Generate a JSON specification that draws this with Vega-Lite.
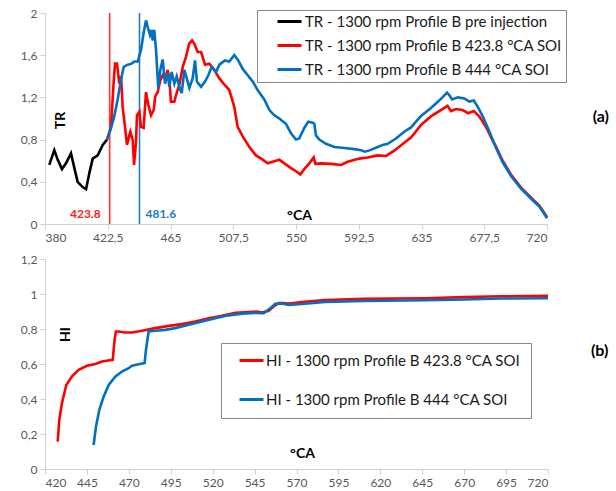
{
  "$schema": "https://vega.github.io/schema/vega-lite/v6.json",
  "background": "white",
  "padding": {"left": 20, "top": 7, "right": 2, "bottom": 0},
  "spacing": 10,
  "config": {
    "view": {"stroke": null},
    "font": "Lato",
    "axis": {
      "grid": false,
      "labelFont": "Lato",
      "labelFontSize": 12,
      "labelColor": "#595959",
      "domainColor": "#D0D0D0",
      "tickColor": "#D0D0D0",
      "tickSize": 5,
      "labelPadding": 3,
      "titleFont": "Lato",
      "titleFontSize": 14,
      "titleFontWeight": "bold",
      "titleColor": "#000000"
    },
    "legend": {
      "labelFont": "Lato",
      "labelFontSize": 15,
      "labelColor": "#1A1A1A",
      "symbolType": "M-2,0L2,0",
      "symbolStrokeWidth": 3,
      "symbolSize": 144,
      "strokeColor": "#888888",
      "fillColor": "white",
      "labelLimit": 400
    }
  },
  "datasets": {
    "tr": [
      {"ca": 382.9, "tr": 0.56, "series": "TR - 1300 rpm Profile B pre injection"},
      {"ca": 386.3, "tr": 0.70, "series": "TR - 1300 rpm Profile B pre injection"},
      {"ca": 388.6, "tr": 0.61, "series": "TR - 1300 rpm Profile B pre injection"},
      {"ca": 391.5, "tr": 0.52, "series": "TR - 1300 rpm Profile B pre injection"},
      {"ca": 394.2, "tr": 0.575, "series": "TR - 1300 rpm Profile B pre injection"},
      {"ca": 397.6, "tr": 0.67, "series": "TR - 1300 rpm Profile B pre injection"},
      {"ca": 399.9, "tr": 0.53, "series": "TR - 1300 rpm Profile B pre injection"},
      {"ca": 402.1, "tr": 0.40, "series": "TR - 1300 rpm Profile B pre injection"},
      {"ca": 405.5, "tr": 0.35, "series": "TR - 1300 rpm Profile B pre injection"},
      {"ca": 407.8, "tr": 0.33, "series": "TR - 1300 rpm Profile B pre injection"},
      {"ca": 410.0, "tr": 0.48, "series": "TR - 1300 rpm Profile B pre injection"},
      {"ca": 412.3, "tr": 0.62, "series": "TR - 1300 rpm Profile B pre injection"},
      {"ca": 415.7, "tr": 0.65, "series": "TR - 1300 rpm Profile B pre injection"},
      {"ca": 419.1, "tr": 0.75, "series": "TR - 1300 rpm Profile B pre injection"},
      {"ca": 422.0, "tr": 0.80, "series": "TR - 1300 rpm Profile B pre injection"},

      {"ca": 422.0, "tr": 0.80, "series": "TR - 1300 rpm Profile B 423.8 °CA SOI"},
      {"ca": 424.7, "tr": 0.92, "series": "TR - 1300 rpm Profile B 423.8 °CA SOI"},
      {"ca": 426.3, "tr": 1.30, "series": "TR - 1300 rpm Profile B 423.8 °CA SOI"},
      {"ca": 427.4, "tr": 1.52, "series": "TR - 1300 rpm Profile B 423.8 °CA SOI"},
      {"ca": 428.8, "tr": 1.52, "series": "TR - 1300 rpm Profile B 423.8 °CA SOI"},
      {"ca": 430.3, "tr": 1.33, "series": "TR - 1300 rpm Profile B 423.8 °CA SOI"},
      {"ca": 431.5, "tr": 1.40, "series": "TR - 1300 rpm Profile B 423.8 °CA SOI"},
      {"ca": 432.6, "tr": 1.11, "series": "TR - 1300 rpm Profile B 423.8 °CA SOI"},
      {"ca": 434.2, "tr": 0.92, "series": "TR - 1300 rpm Profile B 423.8 °CA SOI"},
      {"ca": 435.5, "tr": 0.75, "series": "TR - 1300 rpm Profile B 423.8 °CA SOI"},
      {"ca": 437.8, "tr": 0.875, "series": "TR - 1300 rpm Profile B 423.8 °CA SOI"},
      {"ca": 439.4, "tr": 0.80, "series": "TR - 1300 rpm Profile B 423.8 °CA SOI"},
      {"ca": 440.3, "tr": 0.56, "series": "TR - 1300 rpm Profile B 423.8 °CA SOI"},
      {"ca": 441.6, "tr": 0.765, "series": "TR - 1300 rpm Profile B 423.8 °CA SOI"},
      {"ca": 442.3, "tr": 1.03, "series": "TR - 1300 rpm Profile B 423.8 °CA SOI"},
      {"ca": 443.9, "tr": 1.065, "series": "TR - 1300 rpm Profile B 423.8 °CA SOI"},
      {"ca": 445.0, "tr": 0.92, "series": "TR - 1300 rpm Profile B 423.8 °CA SOI"},
      {"ca": 446.8, "tr": 0.91, "series": "TR - 1300 rpm Profile B 423.8 °CA SOI"},
      {"ca": 448.4, "tr": 1.25, "series": "TR - 1300 rpm Profile B 423.8 °CA SOI"},
      {"ca": 450.0, "tr": 1.13, "series": "TR - 1300 rpm Profile B 423.8 °CA SOI"},
      {"ca": 451.8, "tr": 1.03, "series": "TR - 1300 rpm Profile B 423.8 °CA SOI"},
      {"ca": 453.6, "tr": 1.08, "series": "TR - 1300 rpm Profile B 423.8 °CA SOI"},
      {"ca": 454.7, "tr": 1.21, "series": "TR - 1300 rpm Profile B 423.8 °CA SOI"},
      {"ca": 456.3, "tr": 1.25, "series": "TR - 1300 rpm Profile B 423.8 °CA SOI"},
      {"ca": 458.1, "tr": 1.36, "series": "TR - 1300 rpm Profile B 423.8 °CA SOI"},
      {"ca": 459.7, "tr": 1.41, "series": "TR - 1300 rpm Profile B 423.8 °CA SOI"},
      {"ca": 461.3, "tr": 1.38, "series": "TR - 1300 rpm Profile B 423.8 °CA SOI"},
      {"ca": 463.1, "tr": 1.46, "series": "TR - 1300 rpm Profile B 423.8 °CA SOI"},
      {"ca": 464.2, "tr": 1.38, "series": "TR - 1300 rpm Profile B 423.8 °CA SOI"},
      {"ca": 465.3, "tr": 1.16, "series": "TR - 1300 rpm Profile B 423.8 °CA SOI"},
      {"ca": 467.6, "tr": 1.16, "series": "TR - 1300 rpm Profile B 423.8 °CA SOI"},
      {"ca": 468.7, "tr": 1.22, "series": "TR - 1300 rpm Profile B 423.8 °CA SOI"},
      {"ca": 471.0, "tr": 1.32, "series": "TR - 1300 rpm Profile B 423.8 °CA SOI"},
      {"ca": 473.3, "tr": 1.49, "series": "TR - 1300 rpm Profile B 423.8 °CA SOI"},
      {"ca": 475.5, "tr": 1.585, "series": "TR - 1300 rpm Profile B 423.8 °CA SOI"},
      {"ca": 477.7, "tr": 1.71, "series": "TR - 1300 rpm Profile B 423.8 °CA SOI"},
      {"ca": 479.6, "tr": 1.74, "series": "TR - 1300 rpm Profile B 423.8 °CA SOI"},
      {"ca": 481.1, "tr": 1.71, "series": "TR - 1300 rpm Profile B 423.8 °CA SOI"},
      {"ca": 483.4, "tr": 1.63, "series": "TR - 1300 rpm Profile B 423.8 °CA SOI"},
      {"ca": 485.7, "tr": 1.63, "series": "TR - 1300 rpm Profile B 423.8 °CA SOI"},
      {"ca": 488.4, "tr": 1.51, "series": "TR - 1300 rpm Profile B 423.8 °CA SOI"},
      {"ca": 491.3, "tr": 1.52, "series": "TR - 1300 rpm Profile B 423.8 °CA SOI"},
      {"ca": 494.7, "tr": 1.46, "series": "TR - 1300 rpm Profile B 423.8 °CA SOI"},
      {"ca": 498.1, "tr": 1.38, "series": "TR - 1300 rpm Profile B 423.8 °CA SOI"},
      {"ca": 501.5, "tr": 1.32, "series": "TR - 1300 rpm Profile B 423.8 °CA SOI"},
      {"ca": 504.8, "tr": 1.27, "series": "TR - 1300 rpm Profile B 423.8 °CA SOI"},
      {"ca": 508.2, "tr": 1.11, "series": "TR - 1300 rpm Profile B 423.8 °CA SOI"},
      {"ca": 510.5, "tr": 0.92, "series": "TR - 1300 rpm Profile B 423.8 °CA SOI"},
      {"ca": 513.9, "tr": 0.83, "series": "TR - 1300 rpm Profile B 423.8 °CA SOI"},
      {"ca": 518.4, "tr": 0.73, "series": "TR - 1300 rpm Profile B 423.8 °CA SOI"},
      {"ca": 522.9, "tr": 0.65, "series": "TR - 1300 rpm Profile B 423.8 °CA SOI"},
      {"ca": 527.4, "tr": 0.61, "series": "TR - 1300 rpm Profile B 423.8 °CA SOI"},
      {"ca": 530.8, "tr": 0.575, "series": "TR - 1300 rpm Profile B 423.8 °CA SOI"},
      {"ca": 534.2, "tr": 0.59, "series": "TR - 1300 rpm Profile B 423.8 °CA SOI"},
      {"ca": 538.7, "tr": 0.61, "series": "TR - 1300 rpm Profile B 423.8 °CA SOI"},
      {"ca": 542.1, "tr": 0.575, "series": "TR - 1300 rpm Profile B 423.8 °CA SOI"},
      {"ca": 546.6, "tr": 0.53, "series": "TR - 1300 rpm Profile B 423.8 °CA SOI"},
      {"ca": 550.0, "tr": 0.50, "series": "TR - 1300 rpm Profile B 423.8 °CA SOI"},
      {"ca": 552.9, "tr": 0.47, "series": "TR - 1300 rpm Profile B 423.8 °CA SOI"},
      {"ca": 555.6, "tr": 0.52, "series": "TR - 1300 rpm Profile B 423.8 °CA SOI"},
      {"ca": 559.0, "tr": 0.575, "series": "TR - 1300 rpm Profile B 423.8 °CA SOI"},
      {"ca": 562.0, "tr": 0.63, "series": "TR - 1300 rpm Profile B 423.8 °CA SOI"},
      {"ca": 563.1, "tr": 0.57, "series": "TR - 1300 rpm Profile B 423.8 °CA SOI"},
      {"ca": 566.9, "tr": 0.575, "series": "TR - 1300 rpm Profile B 423.8 °CA SOI"},
      {"ca": 573.7, "tr": 0.57, "series": "TR - 1300 rpm Profile B 423.8 °CA SOI"},
      {"ca": 580.5, "tr": 0.56, "series": "TR - 1300 rpm Profile B 423.8 °CA SOI"},
      {"ca": 585.0, "tr": 0.59, "series": "TR - 1300 rpm Profile B 423.8 °CA SOI"},
      {"ca": 592.9, "tr": 0.62, "series": "TR - 1300 rpm Profile B 423.8 °CA SOI"},
      {"ca": 598.6, "tr": 0.63, "series": "TR - 1300 rpm Profile B 423.8 °CA SOI"},
      {"ca": 605.3, "tr": 0.65, "series": "TR - 1300 rpm Profile B 423.8 °CA SOI"},
      {"ca": 611.0, "tr": 0.645, "series": "TR - 1300 rpm Profile B 423.8 °CA SOI"},
      {"ca": 616.6, "tr": 0.695, "series": "TR - 1300 rpm Profile B 423.8 °CA SOI"},
      {"ca": 623.3, "tr": 0.77, "series": "TR - 1300 rpm Profile B 423.8 °CA SOI"},
      {"ca": 627.9, "tr": 0.82, "series": "TR - 1300 rpm Profile B 423.8 °CA SOI"},
      {"ca": 634.7, "tr": 0.94, "series": "TR - 1300 rpm Profile B 423.8 °CA SOI"},
      {"ca": 641.4, "tr": 1.02, "series": "TR - 1300 rpm Profile B 423.8 °CA SOI"},
      {"ca": 647.0, "tr": 1.07, "series": "TR - 1300 rpm Profile B 423.8 °CA SOI"},
      {"ca": 652.6, "tr": 1.12, "series": "TR - 1300 rpm Profile B 423.8 °CA SOI"},
      {"ca": 654.9, "tr": 1.07, "series": "TR - 1300 rpm Profile B 423.8 °CA SOI"},
      {"ca": 658.3, "tr": 1.09, "series": "TR - 1300 rpm Profile B 423.8 °CA SOI"},
      {"ca": 662.8, "tr": 1.08, "series": "TR - 1300 rpm Profile B 423.8 °CA SOI"},
      {"ca": 666.6, "tr": 1.05, "series": "TR - 1300 rpm Profile B 423.8 °CA SOI"},
      {"ca": 670.4, "tr": 1.07, "series": "TR - 1300 rpm Profile B 423.8 °CA SOI"},
      {"ca": 674.1, "tr": 1.02, "series": "TR - 1300 rpm Profile B 423.8 °CA SOI"},
      {"ca": 678.7, "tr": 0.92, "series": "TR - 1300 rpm Profile B 423.8 °CA SOI"},
      {"ca": 683.2, "tr": 0.79, "series": "TR - 1300 rpm Profile B 423.8 °CA SOI"},
      {"ca": 685.4, "tr": 0.735, "series": "TR - 1300 rpm Profile B 423.8 °CA SOI"},
      {"ca": 690.0, "tr": 0.60, "series": "TR - 1300 rpm Profile B 423.8 °CA SOI"},
      {"ca": 695.6, "tr": 0.47, "series": "TR - 1300 rpm Profile B 423.8 °CA SOI"},
      {"ca": 702.4, "tr": 0.345, "series": "TR - 1300 rpm Profile B 423.8 °CA SOI"},
      {"ca": 710.3, "tr": 0.235, "series": "TR - 1300 rpm Profile B 423.8 °CA SOI"},
      {"ca": 714.8, "tr": 0.175, "series": "TR - 1300 rpm Profile B 423.8 °CA SOI"},
      {"ca": 718.2, "tr": 0.105, "series": "TR - 1300 rpm Profile B 423.8 °CA SOI"},
      {"ca": 720.0, "tr": 0.065, "series": "TR - 1300 rpm Profile B 423.8 °CA SOI"},

      {"ca": 422.0, "tr": 0.80, "series": "TR - 1300 rpm Profile B 444 °CA SOI"},
      {"ca": 424.7, "tr": 0.91, "series": "TR - 1300 rpm Profile B 444 °CA SOI"},
      {"ca": 426.9, "tr": 1.02, "series": "TR - 1300 rpm Profile B 444 °CA SOI"},
      {"ca": 429.2, "tr": 1.18, "series": "TR - 1300 rpm Profile B 444 °CA SOI"},
      {"ca": 431.5, "tr": 1.37, "series": "TR - 1300 rpm Profile B 444 °CA SOI"},
      {"ca": 433.3, "tr": 1.49, "series": "TR - 1300 rpm Profile B 444 °CA SOI"},
      {"ca": 436.0, "tr": 1.51, "series": "TR - 1300 rpm Profile B 444 °CA SOI"},
      {"ca": 438.7, "tr": 1.52, "series": "TR - 1300 rpm Profile B 444 °CA SOI"},
      {"ca": 440.5, "tr": 1.54, "series": "TR - 1300 rpm Profile B 444 °CA SOI"},
      {"ca": 442.8, "tr": 1.54, "series": "TR - 1300 rpm Profile B 444 °CA SOI"},
      {"ca": 445.0, "tr": 1.65, "series": "TR - 1300 rpm Profile B 444 °CA SOI"},
      {"ca": 446.8, "tr": 1.81, "series": "TR - 1300 rpm Profile B 444 °CA SOI"},
      {"ca": 448.4, "tr": 1.93, "series": "TR - 1300 rpm Profile B 444 °CA SOI"},
      {"ca": 449.5, "tr": 1.87, "series": "TR - 1300 rpm Profile B 444 °CA SOI"},
      {"ca": 451.1, "tr": 1.79, "series": "TR - 1300 rpm Profile B 444 °CA SOI"},
      {"ca": 452.3, "tr": 1.84, "series": "TR - 1300 rpm Profile B 444 °CA SOI"},
      {"ca": 452.9, "tr": 1.74, "series": "TR - 1300 rpm Profile B 444 °CA SOI"},
      {"ca": 454.0, "tr": 1.84, "series": "TR - 1300 rpm Profile B 444 °CA SOI"},
      {"ca": 455.2, "tr": 1.65, "series": "TR - 1300 rpm Profile B 444 °CA SOI"},
      {"ca": 456.7, "tr": 1.29, "series": "TR - 1300 rpm Profile B 444 °CA SOI"},
      {"ca": 458.1, "tr": 1.46, "series": "TR - 1300 rpm Profile B 444 °CA SOI"},
      {"ca": 459.7, "tr": 1.56, "series": "TR - 1300 rpm Profile B 444 °CA SOI"},
      {"ca": 461.3, "tr": 1.33, "series": "TR - 1300 rpm Profile B 444 °CA SOI"},
      {"ca": 463.1, "tr": 1.43, "series": "TR - 1300 rpm Profile B 444 °CA SOI"},
      {"ca": 464.2, "tr": 1.30, "series": "TR - 1300 rpm Profile B 444 °CA SOI"},
      {"ca": 465.8, "tr": 1.44, "series": "TR - 1300 rpm Profile B 444 °CA SOI"},
      {"ca": 467.6, "tr": 1.33, "series": "TR - 1300 rpm Profile B 444 °CA SOI"},
      {"ca": 469.2, "tr": 1.40, "series": "TR - 1300 rpm Profile B 444 °CA SOI"},
      {"ca": 471.0, "tr": 1.30, "series": "TR - 1300 rpm Profile B 444 °CA SOI"},
      {"ca": 472.6, "tr": 1.24, "series": "TR - 1300 rpm Profile B 444 °CA SOI"},
      {"ca": 474.4, "tr": 1.46, "series": "TR - 1300 rpm Profile B 444 °CA SOI"},
      {"ca": 476.2, "tr": 1.37, "series": "TR - 1300 rpm Profile B 444 °CA SOI"},
      {"ca": 477.8, "tr": 1.29, "series": "TR - 1300 rpm Profile B 444 °CA SOI"},
      {"ca": 480.0, "tr": 1.38, "series": "TR - 1300 rpm Profile B 444 °CA SOI"},
      {"ca": 481.6, "tr": 1.55, "series": "TR - 1300 rpm Profile B 444 °CA SOI"},
      {"ca": 482.9, "tr": 1.35, "series": "TR - 1300 rpm Profile B 444 °CA SOI"},
      {"ca": 485.7, "tr": 1.30, "series": "TR - 1300 rpm Profile B 444 °CA SOI"},
      {"ca": 488.4, "tr": 1.35, "series": "TR - 1300 rpm Profile B 444 °CA SOI"},
      {"ca": 490.6, "tr": 1.41, "series": "TR - 1300 rpm Profile B 444 °CA SOI"},
      {"ca": 492.9, "tr": 1.49, "series": "TR - 1300 rpm Profile B 444 °CA SOI"},
      {"ca": 495.8, "tr": 1.44, "series": "TR - 1300 rpm Profile B 444 °CA SOI"},
      {"ca": 498.1, "tr": 1.51, "series": "TR - 1300 rpm Profile B 444 °CA SOI"},
      {"ca": 501.9, "tr": 1.55, "series": "TR - 1300 rpm Profile B 444 °CA SOI"},
      {"ca": 504.8, "tr": 1.54, "series": "TR - 1300 rpm Profile B 444 °CA SOI"},
      {"ca": 508.2, "tr": 1.60, "series": "TR - 1300 rpm Profile B 444 °CA SOI"},
      {"ca": 510.9, "tr": 1.55, "series": "TR - 1300 rpm Profile B 444 °CA SOI"},
      {"ca": 513.9, "tr": 1.47, "series": "TR - 1300 rpm Profile B 444 °CA SOI"},
      {"ca": 517.3, "tr": 1.41, "series": "TR - 1300 rpm Profile B 444 °CA SOI"},
      {"ca": 520.7, "tr": 1.35, "series": "TR - 1300 rpm Profile B 444 °CA SOI"},
      {"ca": 524.0, "tr": 1.27, "series": "TR - 1300 rpm Profile B 444 °CA SOI"},
      {"ca": 528.5, "tr": 1.18, "series": "TR - 1300 rpm Profile B 444 °CA SOI"},
      {"ca": 532.0, "tr": 1.08, "series": "TR - 1300 rpm Profile B 444 °CA SOI"},
      {"ca": 535.3, "tr": 1.03, "series": "TR - 1300 rpm Profile B 444 °CA SOI"},
      {"ca": 538.7, "tr": 1.00, "series": "TR - 1300 rpm Profile B 444 °CA SOI"},
      {"ca": 543.2, "tr": 0.95, "series": "TR - 1300 rpm Profile B 444 °CA SOI"},
      {"ca": 546.6, "tr": 0.86, "series": "TR - 1300 rpm Profile B 444 °CA SOI"},
      {"ca": 550.0, "tr": 0.80, "series": "TR - 1300 rpm Profile B 444 °CA SOI"},
      {"ca": 552.2, "tr": 0.81, "series": "TR - 1300 rpm Profile B 444 °CA SOI"},
      {"ca": 555.6, "tr": 0.91, "series": "TR - 1300 rpm Profile B 444 °CA SOI"},
      {"ca": 558.3, "tr": 0.97, "series": "TR - 1300 rpm Profile B 444 °CA SOI"},
      {"ca": 561.3, "tr": 0.96, "series": "TR - 1300 rpm Profile B 444 °CA SOI"},
      {"ca": 562.4, "tr": 0.95, "series": "TR - 1300 rpm Profile B 444 °CA SOI"},
      {"ca": 563.5, "tr": 0.84, "series": "TR - 1300 rpm Profile B 444 °CA SOI"},
      {"ca": 565.8, "tr": 0.80, "series": "TR - 1300 rpm Profile B 444 °CA SOI"},
      {"ca": 570.3, "tr": 0.76, "series": "TR - 1300 rpm Profile B 444 °CA SOI"},
      {"ca": 576.0, "tr": 0.73, "series": "TR - 1300 rpm Profile B 444 °CA SOI"},
      {"ca": 582.8, "tr": 0.72, "series": "TR - 1300 rpm Profile B 444 °CA SOI"},
      {"ca": 589.5, "tr": 0.71, "series": "TR - 1300 rpm Profile B 444 °CA SOI"},
      {"ca": 594.0, "tr": 0.70, "series": "TR - 1300 rpm Profile B 444 °CA SOI"},
      {"ca": 596.7, "tr": 0.685, "series": "TR - 1300 rpm Profile B 444 °CA SOI"},
      {"ca": 600.3, "tr": 0.70, "series": "TR - 1300 rpm Profile B 444 °CA SOI"},
      {"ca": 605.3, "tr": 0.73, "series": "TR - 1300 rpm Profile B 444 °CA SOI"},
      {"ca": 608.7, "tr": 0.75, "series": "TR - 1300 rpm Profile B 444 °CA SOI"},
      {"ca": 612.1, "tr": 0.76, "series": "TR - 1300 rpm Profile B 444 °CA SOI"},
      {"ca": 617.7, "tr": 0.81, "series": "TR - 1300 rpm Profile B 444 °CA SOI"},
      {"ca": 623.3, "tr": 0.875, "series": "TR - 1300 rpm Profile B 444 °CA SOI"},
      {"ca": 627.9, "tr": 0.915, "series": "TR - 1300 rpm Profile B 444 °CA SOI"},
      {"ca": 631.3, "tr": 0.97, "series": "TR - 1300 rpm Profile B 444 °CA SOI"},
      {"ca": 634.7, "tr": 1.025, "series": "TR - 1300 rpm Profile B 444 °CA SOI"},
      {"ca": 641.4, "tr": 1.10, "series": "TR - 1300 rpm Profile B 444 °CA SOI"},
      {"ca": 647.0, "tr": 1.17, "series": "TR - 1300 rpm Profile B 444 °CA SOI"},
      {"ca": 652.3, "tr": 1.245, "series": "TR - 1300 rpm Profile B 444 °CA SOI"},
      {"ca": 653.9, "tr": 1.22, "series": "TR - 1300 rpm Profile B 444 °CA SOI"},
      {"ca": 655.7, "tr": 1.18, "series": "TR - 1300 rpm Profile B 444 °CA SOI"},
      {"ca": 659.6, "tr": 1.20, "series": "TR - 1300 rpm Profile B 444 °CA SOI"},
      {"ca": 664.0, "tr": 1.19, "series": "TR - 1300 rpm Profile B 444 °CA SOI"},
      {"ca": 667.4, "tr": 1.16, "series": "TR - 1300 rpm Profile B 444 °CA SOI"},
      {"ca": 670.4, "tr": 1.17, "series": "TR - 1300 rpm Profile B 444 °CA SOI"},
      {"ca": 673.1, "tr": 1.11, "series": "TR - 1300 rpm Profile B 444 °CA SOI"},
      {"ca": 676.5, "tr": 1.02, "series": "TR - 1300 rpm Profile B 444 °CA SOI"},
      {"ca": 681.0, "tr": 0.875, "series": "TR - 1300 rpm Profile B 444 °CA SOI"},
      {"ca": 685.4, "tr": 0.725, "series": "TR - 1300 rpm Profile B 444 °CA SOI"},
      {"ca": 690.0, "tr": 0.585, "series": "TR - 1300 rpm Profile B 444 °CA SOI"},
      {"ca": 695.6, "tr": 0.455, "series": "TR - 1300 rpm Profile B 444 °CA SOI"},
      {"ca": 702.4, "tr": 0.335, "series": "TR - 1300 rpm Profile B 444 °CA SOI"},
      {"ca": 710.3, "tr": 0.225, "series": "TR - 1300 rpm Profile B 444 °CA SOI"},
      {"ca": 714.8, "tr": 0.165, "series": "TR - 1300 rpm Profile B 444 °CA SOI"},
      {"ca": 718.2, "tr": 0.095, "series": "TR - 1300 rpm Profile B 444 °CA SOI"},
      {"ca": 720.0, "tr": 0.055, "series": "TR - 1300 rpm Profile B 444 °CA SOI"}
    ],
    "soi": [
      {"ca": 423.8, "label": "423.8", "which": "first"},
      {"ca": 444, "label": "481.6", "which": "second"}
    ],
    "hi": [
      {"ca": 427.6, "hi": 0.156, "series": "HI - 1300 rpm Profile B 423.8 °CA SOI"},
      {"ca": 428.5, "hi": 0.28, "series": "HI - 1300 rpm Profile B 423.8 °CA SOI"},
      {"ca": 430.1, "hi": 0.376, "series": "HI - 1300 rpm Profile B 423.8 °CA SOI"},
      {"ca": 432.7, "hi": 0.48, "series": "HI - 1300 rpm Profile B 423.8 °CA SOI"},
      {"ca": 436.1, "hi": 0.53, "series": "HI - 1300 rpm Profile B 423.8 °CA SOI"},
      {"ca": 440.1, "hi": 0.567, "series": "HI - 1300 rpm Profile B 423.8 °CA SOI"},
      {"ca": 445.0, "hi": 0.59, "series": "HI - 1300 rpm Profile B 423.8 °CA SOI"},
      {"ca": 450.0, "hi": 0.60, "series": "HI - 1300 rpm Profile B 423.8 °CA SOI"},
      {"ca": 454.0, "hi": 0.614, "series": "HI - 1300 rpm Profile B 423.8 °CA SOI"},
      {"ca": 457.6, "hi": 0.62, "series": "HI - 1300 rpm Profile B 423.8 °CA SOI"},
      {"ca": 460.4, "hi": 0.624, "series": "HI - 1300 rpm Profile B 423.8 °CA SOI"},
      {"ca": 461.5, "hi": 0.738, "series": "HI - 1300 rpm Profile B 423.8 °CA SOI"},
      {"ca": 462.3, "hi": 0.786, "series": "HI - 1300 rpm Profile B 423.8 °CA SOI"},
      {"ca": 463.9, "hi": 0.786, "series": "HI - 1300 rpm Profile B 423.8 °CA SOI"},
      {"ca": 467.9, "hi": 0.78, "series": "HI - 1300 rpm Profile B 423.8 °CA SOI"},
      {"ca": 471.9, "hi": 0.78, "series": "HI - 1300 rpm Profile B 423.8 °CA SOI"},
      {"ca": 477.8, "hi": 0.79, "series": "HI - 1300 rpm Profile B 423.8 °CA SOI"},
      {"ca": 485.8, "hi": 0.805, "series": "HI - 1300 rpm Profile B 423.8 °CA SOI"},
      {"ca": 493.8, "hi": 0.818, "series": "HI - 1300 rpm Profile B 423.8 °CA SOI"},
      {"ca": 501.7, "hi": 0.828, "series": "HI - 1300 rpm Profile B 423.8 °CA SOI"},
      {"ca": 509.6, "hi": 0.843, "series": "HI - 1300 rpm Profile B 423.8 °CA SOI"},
      {"ca": 517.6, "hi": 0.862, "series": "HI - 1300 rpm Profile B 423.8 °CA SOI"},
      {"ca": 525.5, "hi": 0.875, "series": "HI - 1300 rpm Profile B 423.8 °CA SOI"},
      {"ca": 533.5, "hi": 0.892, "series": "HI - 1300 rpm Profile B 423.8 °CA SOI"},
      {"ca": 541.5, "hi": 0.897, "series": "HI - 1300 rpm Profile B 423.8 °CA SOI"},
      {"ca": 546.4, "hi": 0.90, "series": "HI - 1300 rpm Profile B 423.8 °CA SOI"},
      {"ca": 549.4, "hi": 0.894, "series": "HI - 1300 rpm Profile B 423.8 °CA SOI"},
      {"ca": 553.4, "hi": 0.904, "series": "HI - 1300 rpm Profile B 423.8 °CA SOI"},
      {"ca": 556.4, "hi": 0.929, "series": "HI - 1300 rpm Profile B 423.8 °CA SOI"},
      {"ca": 559.4, "hi": 0.948, "series": "HI - 1300 rpm Profile B 423.8 °CA SOI"},
      {"ca": 562.3, "hi": 0.948, "series": "HI - 1300 rpm Profile B 423.8 °CA SOI"},
      {"ca": 565.3, "hi": 0.946, "series": "HI - 1300 rpm Profile B 423.8 °CA SOI"},
      {"ca": 573.3, "hi": 0.954, "series": "HI - 1300 rpm Profile B 423.8 °CA SOI"},
      {"ca": 587.1, "hi": 0.966, "series": "HI - 1300 rpm Profile B 423.8 °CA SOI"},
      {"ca": 610.0, "hi": 0.972, "series": "HI - 1300 rpm Profile B 423.8 °CA SOI"},
      {"ca": 646.8, "hi": 0.976, "series": "HI - 1300 rpm Profile B 423.8 °CA SOI"},
      {"ca": 670.0, "hi": 0.982, "series": "HI - 1300 rpm Profile B 423.8 °CA SOI"},
      {"ca": 692.5, "hi": 0.987, "series": "HI - 1300 rpm Profile B 423.8 °CA SOI"},
      {"ca": 720.0, "hi": 0.99, "series": "HI - 1300 rpm Profile B 423.8 °CA SOI"},

      {"ca": 449.0, "hi": 0.137, "series": "HI - 1300 rpm Profile B 444 °CA SOI"},
      {"ca": 450.4, "hi": 0.242, "series": "HI - 1300 rpm Profile B 444 °CA SOI"},
      {"ca": 452.4, "hi": 0.338, "series": "HI - 1300 rpm Profile B 444 °CA SOI"},
      {"ca": 455.0, "hi": 0.414, "series": "HI - 1300 rpm Profile B 444 °CA SOI"},
      {"ca": 458.0, "hi": 0.48, "series": "HI - 1300 rpm Profile B 444 °CA SOI"},
      {"ca": 461.9, "hi": 0.528, "series": "HI - 1300 rpm Profile B 444 °CA SOI"},
      {"ca": 465.9, "hi": 0.557, "series": "HI - 1300 rpm Profile B 444 °CA SOI"},
      {"ca": 469.9, "hi": 0.576, "series": "HI - 1300 rpm Profile B 444 °CA SOI"},
      {"ca": 471.9, "hi": 0.59, "series": "HI - 1300 rpm Profile B 444 °CA SOI"},
      {"ca": 475.9, "hi": 0.599, "series": "HI - 1300 rpm Profile B 444 °CA SOI"},
      {"ca": 479.4, "hi": 0.605, "series": "HI - 1300 rpm Profile B 444 °CA SOI"},
      {"ca": 480.2, "hi": 0.68, "series": "HI - 1300 rpm Profile B 444 °CA SOI"},
      {"ca": 481.8, "hi": 0.786, "series": "HI - 1300 rpm Profile B 444 °CA SOI"},
      {"ca": 485.8, "hi": 0.79, "series": "HI - 1300 rpm Profile B 444 °CA SOI"},
      {"ca": 491.7, "hi": 0.795, "series": "HI - 1300 rpm Profile B 444 °CA SOI"},
      {"ca": 497.7, "hi": 0.805, "series": "HI - 1300 rpm Profile B 444 °CA SOI"},
      {"ca": 505.7, "hi": 0.824, "series": "HI - 1300 rpm Profile B 444 °CA SOI"},
      {"ca": 513.6, "hi": 0.843, "series": "HI - 1300 rpm Profile B 444 °CA SOI"},
      {"ca": 521.6, "hi": 0.862, "series": "HI - 1300 rpm Profile B 444 °CA SOI"},
      {"ca": 529.5, "hi": 0.878, "series": "HI - 1300 rpm Profile B 444 °CA SOI"},
      {"ca": 537.5, "hi": 0.888, "series": "HI - 1300 rpm Profile B 444 °CA SOI"},
      {"ca": 545.4, "hi": 0.892, "series": "HI - 1300 rpm Profile B 444 °CA SOI"},
      {"ca": 550.4, "hi": 0.89, "series": "HI - 1300 rpm Profile B 444 °CA SOI"},
      {"ca": 554.3, "hi": 0.918, "series": "HI - 1300 rpm Profile B 444 °CA SOI"},
      {"ca": 557.3, "hi": 0.944, "series": "HI - 1300 rpm Profile B 444 °CA SOI"},
      {"ca": 561.3, "hi": 0.946, "series": "HI - 1300 rpm Profile B 444 °CA SOI"},
      {"ca": 565.3, "hi": 0.938, "series": "HI - 1300 rpm Profile B 444 °CA SOI"},
      {"ca": 573.3, "hi": 0.943, "series": "HI - 1300 rpm Profile B 444 °CA SOI"},
      {"ca": 587.1, "hi": 0.955, "series": "HI - 1300 rpm Profile B 444 °CA SOI"},
      {"ca": 610.0, "hi": 0.96, "series": "HI - 1300 rpm Profile B 444 °CA SOI"},
      {"ca": 646.8, "hi": 0.964, "series": "HI - 1300 rpm Profile B 444 °CA SOI"},
      {"ca": 670.0, "hi": 0.969, "series": "HI - 1300 rpm Profile B 444 °CA SOI"},
      {"ca": 692.5, "hi": 0.974, "series": "HI - 1300 rpm Profile B 444 °CA SOI"},
      {"ca": 720.0, "hi": 0.976, "series": "HI - 1300 rpm Profile B 444 °CA SOI"}
    ]
  },
  "vconcat": [
    {
      "width": 502,
      "height": 211,
      "title": {"text": "(a)", "orient": "right", "angle": 0, "anchor": "middle", "align": "center", "baseline": "middle", "offset": 18, "fontSize": 16, "fontWeight": "bold", "font": "Lato", "dy": -2},
      "layer": [
        {
          "data": {"name": "soi"},
          "mark": {"type": "rule", "strokeWidth": 1.6},
          "encoding": {
            "x": {"field": "ca", "type": "quantitative", "scale": {"domain": [380, 720], "nice": false}},
            "color": {"field": "which", "type": "nominal", "scale": {"domain": ["first", "second"], "range": ["#FF3333", "#1F7BC8"]}, "legend": null}
          }
        },
        {
          "data": {"name": "soi"},
          "transform": [{"filter": "datum.which === 'first'"}],
          "mark": {"type": "text", "align": "right", "baseline": "middle", "dx": -9, "fontWeight": "bold", "fontSize": 12, "font": "Lato", "color": "#FF2020"},
          "encoding": {
            "x": {"field": "ca", "type": "quantitative"},
            "y": {"datum": 0.095, "type": "quantitative"},
            "text": {"field": "label"}
          }
        },
        {
          "data": {"name": "soi"},
          "transform": [{"filter": "datum.which === 'second'"}],
          "mark": {"type": "text", "align": "left", "baseline": "middle", "dx": 6, "fontWeight": "bold", "fontSize": 12, "font": "Lato", "color": "#1F7BC8"},
          "encoding": {
            "x": {"field": "ca", "type": "quantitative"},
            "y": {"datum": 0.095, "type": "quantitative"},
            "text": {"field": "label"}
          }
        },
        {
          "data": {"name": "tr"},
          "mark": {"type": "line", "strokeWidth": 2.6, "interpolate": "linear"},
          "encoding": {
            "x": {
              "field": "ca", "type": "quantitative",
              "scale": {"domain": [380, 720], "nice": false},
              "axis": {
                "values": [380, 422.5, 465, 507.5, 550, 592.5, 635, 677.5, 720],
                "labelExpr": "replace(format(datum.value, '~g'), '.', ',')",
                "title": "°CA", "titleX": 254, "titleY": -9, "titleBaseline": "middle"
              }
            },
            "y": {
              "field": "tr", "type": "quantitative",
              "scale": {"domain": [0, 2], "nice": false},
              "axis": {
                "values": [0, 0.4, 0.8, 1.2, 1.6, 2],
                "labelExpr": "replace(format(datum.value, '~g'), '.', ',')",
                "title": "TR", "titleX": 15, "titleY": 107, "titleAngle": -90, "titleAlign": "center", "titleBaseline": "middle"
              }
            },
            "color": {
              "field": "series", "type": "nominal",
              "scale": {
                "domain": ["TR - 1300 rpm Profile B pre injection", "TR - 1300 rpm Profile B 423.8 °CA SOI", "TR - 1300 rpm Profile B 444 °CA SOI"],
                "range": ["#000000", "#FF0000", "#0070C0"]
              },
              "legend": {
                "title": null, "orient": "none", "legendX": 212, "legendY": -3,
                "padding": 4, "symbolOffset": 21, "labelOffset": 8, "rowPadding": 8,
                "labelExpr": "datum.label + '\u00a0\u00a0\u00a0\u00a0\u00a0'"
              }
            }
          }
        }
      ],
      "resolve": {"scale": {"color": "independent"}}
    },
    {
      "width": 503,
      "height": 210,
      "title": {"text": "(b)", "orient": "right", "angle": 0, "anchor": "middle", "align": "center", "baseline": "middle", "offset": 29, "fontSize": 16, "fontWeight": "bold", "font": "Lato", "dy": -13},
      "data": {"name": "hi"},
      "mark": {"type": "line", "strokeWidth": 2.6},
      "encoding": {
        "x": {
          "field": "ca", "type": "quantitative",
          "scale": {"domain": [420, 720], "nice": false},
          "axis": {
            "values": [420, 445, 470, 495, 520, 545, 570, 595, 620, 645, 670, 695, 720],
            "labelExpr": "replace(format(datum.value, '~g'), '.', ',')",
            "title": "°CA", "titleX": 257, "titleY": -16, "titleBaseline": "middle"
          }
        },
        "y": {
          "field": "hi", "type": "quantitative",
          "scale": {"domain": [0, 1.2], "nice": false},
          "axis": {
            "values": [0, 0.2, 0.4, 0.6, 0.8, 1, 1.2],
            "labelExpr": "replace(format(datum.value, '~g'), '.', ',')",
            "title": "HI", "titleX": 20, "titleY": 75, "titleAngle": -90, "titleAlign": "center", "titleBaseline": "middle"
          }
        },
        "color": {
          "field": "series", "type": "nominal",
          "scale": {
            "domain": ["HI - 1300 rpm Profile B 423.8 °CA SOI", "HI - 1300 rpm Profile B 444 °CA SOI"],
            "range": ["#FF0000", "#0070C0"]
          },
          "legend": {
            "title": null, "orient": "none", "legendX": 176, "legendY": 84,
            "padding": 10, "symbolOffset": 13, "labelOffset": 7, "rowPadding": 23
          }
        }
      }
    }
  ],
  "resolve": {"scale": {"color": "independent"}}
}
